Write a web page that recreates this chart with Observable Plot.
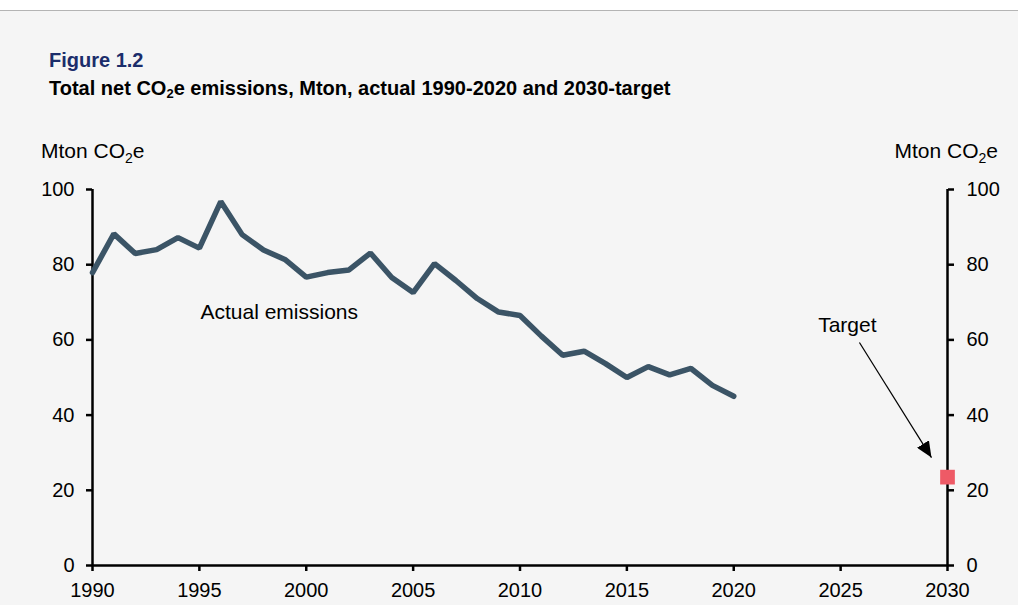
<!DOCTYPE html>
<html>
<head>
<meta charset="utf-8">
<script src="https://cdn.jsdelivr.net/npm/d3@7"></script>
<script src="https://cdn.jsdelivr.net/npm/@observablehq/plot@0.6"></script>
<style>
  html, body { margin: 0; padding: 0; background: #f5f5f5; font-family: "Liberation Sans", Arial, sans-serif; }
  #page { width: 1018px; height: 605px; position: relative; overflow: hidden; background: #f5f5f5; }
  #topbar { height: 10px; background: #ffffff; border-bottom: 1px solid #b4b4b4; }
  #header { position: relative; height: 119px; }
  #fig { position: absolute; left: 49px; top: 39px; font-size: 20px; font-weight: bold; color: #1b2d6b; line-height: 20px; }
  #sub { position: absolute; left: 49px; top: 67px; font-size: 20px; font-weight: bold; color: #000; line-height: 20px; white-space: nowrap; }
  #sub sub { font-size: 13px; vertical-align: -3px; line-height: 0; }
  #chart svg { display: block; }
</style>
</head>
<body>
<div id="page">
  <div id="topbar"></div>
  <div id="header">
    <div id="fig">Figure 1.2</div>
    <div id="sub">Total net CO<sub>2</sub>e emissions, Mton, actual 1990-2020 and 2030-target</div>
  </div>
  <div id="chart"></div>
</div>
<script>
// ---- data ----
const years = [1990, 1991, 1992, 1993, 1994, 1995, 1996, 1997, 1998, 1999,
               2000, 2001, 2002, 2003, 2004, 2005, 2006, 2007, 2008, 2009,
               2010, 2011, 2012, 2013, 2014, 2015, 2016, 2017, 2018, 2019, 2020];
const emissions = [77.9, 88.2, 83.0, 84.0, 87.2, 84.4, 96.8, 88.0, 83.9, 81.4,
                   76.7, 77.9, 78.6, 83.1, 76.6, 72.6, 80.3, 75.8, 71.0, 67.4,
                   66.5, 61.0, 55.9, 57.0, 53.7, 50.0, 52.9, 50.7, 52.4, 47.9, 45.0];
const targetYears = [2030];
const targetValues = [23.5];
const xTicks = [1990, 1995, 2000, 2005, 2010, 2015, 2020, 2025, 2030];
const yTicks = [0, 20, 40, 60, 80, 100];
const labelTexts = ["Actual emissions", "Target"];
const labelX = [1995.05, 2023.95];
const labelY = [67.4, 63.9];
const arrowFrom = [2025.88, 59.3];
const arrowTo = [2029.25, 28.7];

const series = years.map((y, i) => ({year: y, value: emissions[i]}));
const target = targetYears.map((y, i) => ({year: y, value: targetValues[i]}));
const labels = labelTexts.map((t, i) => ({text: t, x: labelX[i], y: labelY[i]}));
const arrows = [{x1: arrowFrom[0], y1: arrowFrom[1], x2: arrowTo[0], y2: arrowTo[1]}];

const FS = 20;
const LFS = 21;
const chart = Plot.plot({
  width: 1018,
  height: 475,
  marginTop: 59,
  marginBottom: 40,
  marginLeft: 92,
  marginRight: 71,
  style: {background: "transparent", fontFamily: "'Liberation Sans', Arial, sans-serif", color: "#000", fontSize: FS + "px", overflow: "visible"},
  x: {domain: [1990, 2030], label: null},
  y: {domain: [0, 100], label: null},
  marks: [
    Plot.axisX({ticks: xTicks, tickFormat: d => String(d), tickSize: 6, tickPadding: 11, fontSize: FS, stroke: "#000", strokeWidth: 2.5, label: null}),
    Plot.axisY({anchor: "left", ticks: yTicks, tickSize: 6, tickPadding: 12, fontSize: FS, stroke: "#000", strokeWidth: 2.5, label: null}),
    Plot.axisY({anchor: "right", ticks: yTicks, tickSize: 6, tickPadding: 13, fontSize: FS, stroke: "#000", strokeWidth: 2.5, label: null}),
    Plot.ruleX([1990, 2030], {stroke: "#000", strokeWidth: 2.5}),
    Plot.ruleY([0], {stroke: "#000", strokeWidth: 2.5}),
    Plot.line(series, {x: "year", y: "value", stroke: "#3b5466", strokeWidth: 5.5, strokeLinejoin: "miter"}),
    Plot.text(labels, {x: "x", y: "y", text: "text", textAnchor: "start", fontSize: LFS, fill: "#000"}),
    Plot.link(arrows, {x1: "x1", y1: "y1", x2: "x2", y2: "y2", stroke: "#000", strokeWidth: 1.2, className: "target-arrow"}),
    Plot.dot(target, {x: "year", y: "value", symbol: "square", r: 8.3, fill: "#ee5a66", stroke: "none"})
  ]
});
document.getElementById("chart").appendChild(chart);

// axis titles with subscript, and filled arrowhead
const svg = d3.select(chart);
const yS = chart.scale("y");
const xS = chart.scale("x");
const topY = yS.apply(100);
function addTitle(x, anchor) {
  const t = svg.append("text")
    .attr("x", x).attr("y", topY - 31)
    .attr("text-anchor", anchor)
    .attr("font-size", LFS).attr("fill", "#000");
  t.append("tspan").text("Mton CO");
  t.append("tspan").attr("font-size", 14).attr("dy", 5).text("2");
  t.append("tspan").attr("dy", -5).text("e");
}
addTitle(xS.apply(1990) - 51, "start");
addTitle(xS.apply(2030) + 51, "end");

const defs = svg.insert("defs", ":first-child");
defs.append("marker")
  .attr("id", "ahead").attr("viewBox", "0 0 16 14")
  .attr("refX", 16).attr("refY", 7)
  .attr("markerUnits", "userSpaceOnUse")
  .attr("markerWidth", 16).attr("markerHeight", 14)
  .attr("orient", "auto")
  .append("path").attr("d", "M0,0L16,7L0,14Z").attr("fill", "#000");
svg.selectAll(".target-arrow path").attr("marker-end", "url(#ahead)");
</script>
</body>
</html>
